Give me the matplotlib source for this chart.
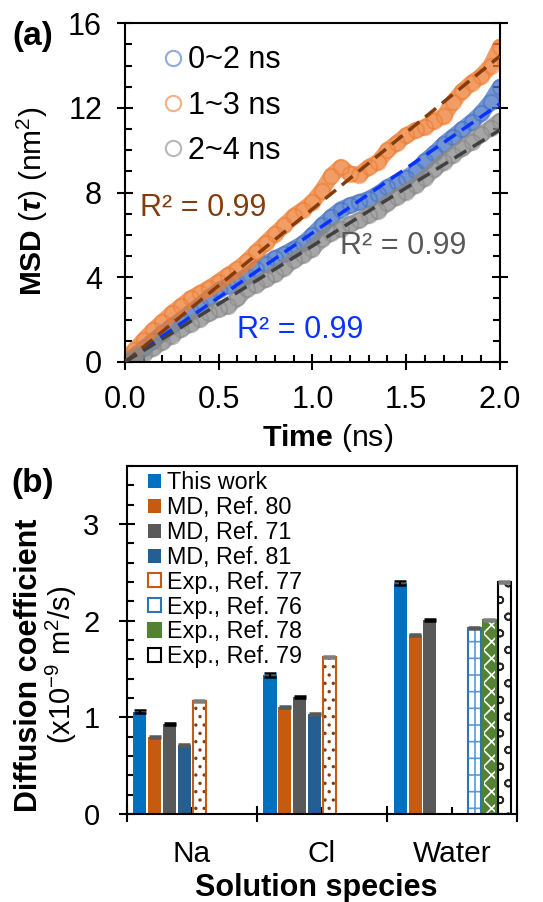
import numpy as np
import matplotlib
matplotlib.use("Agg")
import matplotlib.pyplot as plt
from matplotlib.lines import Line2D
from matplotlib.patches import Patch
from matplotlib.ticker import MultipleLocator, FormatStrFormatter

plt.rcParams['font.family'] = ['Liberation Sans', 'DejaVu Sans']
plt.rcParams['mathtext.fontset'] = 'custom'
plt.rcParams['mathtext.rm'] = 'Liberation Sans'
plt.rcParams['mathtext.it'] = 'Liberation Sans:italic'
plt.rcParams['mathtext.bf'] = 'Liberation Sans:bold'
plt.rcParams['mathtext.bfit'] = 'Liberation Sans:bold:italic'
plt.rcParams['hatch.linewidth'] = 1.2

# ---- (a) MSD curves ----
time_ns = [0.00, 0.05, 0.10, 0.15, 0.20, 0.25, 0.30, 0.35, 0.40, 0.45,
           0.50, 0.55, 0.60, 0.65, 0.70, 0.75, 0.80, 0.85, 0.90, 0.95,
           1.00, 1.05, 1.10, 1.15, 1.20, 1.25, 1.30, 1.35, 1.40, 1.45,
           1.50, 1.55, 1.60, 1.65, 1.70, 1.75, 1.80, 1.85, 1.90, 1.95, 2.00]
msd_0_2 = [0.00, 0.30, 0.65, 1.00, 1.35, 1.70, 2.00, 2.35, 2.70, 3.05,
           3.40, 3.60, 3.80, 4.05, 4.40, 4.65, 4.90, 5.10, 5.35, 5.60,
           6.00, 6.45, 6.85, 7.20, 7.40, 7.55, 7.70, 7.95, 8.25, 8.50,
           8.70, 9.00, 9.50, 9.85, 10.30, 10.65, 11.00, 11.35, 11.75, 12.30, 13.00]
msd_1_3 = [0.00, 0.55, 1.05, 1.50, 1.90, 2.30, 2.65, 3.00, 3.25, 3.50,
           3.80, 4.10, 4.40, 4.75, 5.20, 5.62, 6.05, 6.45, 6.90, 7.20,
           7.55, 8.10, 8.80, 9.20, 8.90, 8.85, 9.20, 9.45, 10.00, 10.35,
           10.70, 10.95, 11.10, 11.40, 11.60, 12.30, 12.80, 13.20, 13.50, 14.00, 14.90]
msd_2_4 = [0.00, 0.15, 0.40, 0.65, 0.95, 1.25, 1.55, 1.80, 2.05, 2.30,
           2.50, 2.65, 3.00, 3.45, 3.65, 3.90, 4.15, 4.45, 4.80, 5.05,
           5.35, 5.80, 6.10, 6.30, 6.50, 6.70, 6.95, 7.15, 7.50, 7.80,
           8.05, 8.35, 8.70, 9.10, 9.45, 9.80, 10.10, 10.40, 10.75, 11.05, 11.40]
msd_labels = ["0~2 ns", "1~3 ns", "2~4 ns"]
r2_text = "R² = 0.99"

# ---- (b) diffusion coefficients (x1e-9 m2/s) ----
species = ["Na", "Cl", "Water"]
series_names = ["This work", "MD, Ref. 80", "MD, Ref. 71", "MD, Ref. 81",
                "Exp., Ref. 77", "Exp., Ref. 76", "Exp., Ref. 78", "Exp., Ref. 79"]
this_work = [1.06, 1.44, 2.39]
this_work_err = [0.02, 0.02, 0.02]
md_ref80 = [0.80, 1.11, 1.85]
md_ref71 = [0.93, 1.21, 2.01]
md_ref81 = [0.71, 1.03, np.nan]
exp_ref77 = [1.17, 1.62, np.nan]
exp_ref76 = [np.nan, np.nan, 1.92]
exp_ref78 = [np.nan, np.nan, 2.01]
exp_ref79 = [np.nan, np.nan, 2.40]
other_err = [0.01, 0.01, 0.01]

fig = plt.figure(figsize=(5.43, 9.02), dpi=100)

# ================= panel (a) =================
ax1 = fig.add_axes([0.2302, 0.5987, 0.6906, 0.3755])
t = np.array(time_ns)
curve_styles = [
    (msd_0_2, '#4472C4', '#0A32FF'),
    (msd_1_3, '#ED7D31', '#843C0C'),
    (msd_2_4, '#888888', '#404040'),
]
for y, col, _ in curve_styles:
    ax1.plot(t, y, '-', color=col, lw=11.5, alpha=0.75, solid_capstyle='round', zorder=2)
    ax1.plot(t, y, 'o', ms=11, mfc='none', mec=col, mew=1.5, alpha=0.55, zorder=2)
for y, _, tcol in curve_styles:
    y = np.array(y)
    slope = np.sum(t * y) / np.sum(t * t)
    ax1.plot([0, 2], [0, 2 * slope], color=tcol, lw=2.5, dashes=(4, 2.2), zorder=3)

ax1.text(0.08, 7.25, r2_text, color='#843C0C', fontsize=22, ha='left', va='center')
ax1.text(1.147, 5.5, r2_text, color='#595959', fontsize=22, ha='left', va='center')
ax1.text(0.597, 1.5, r2_text, color='#0A32FF', fontsize=22, ha='left', va='center')

ax1.set_xlim(0, 2.0)
ax1.set_ylim(0, 16)
ax1.xaxis.set_major_locator(MultipleLocator(0.5))
ax1.xaxis.set_minor_locator(MultipleLocator(0.1))
ax1.xaxis.set_major_formatter(FormatStrFormatter('%.1f'))
ax1.yaxis.set_major_locator(MultipleLocator(4))
ax1.yaxis.set_minor_locator(MultipleLocator(1))
ax1.tick_params(which='major', direction='inout', length=11, width=1.5,
                right=True, top=False, labelsize=22, pad=11)
ax1.tick_params(which='minor', direction='in', length=5, width=1.5, right=True, top=False)
for s in ax1.spines.values():
    s.set_linewidth(1.5)

handles = [Line2D([], [], ls='none', marker='o', ms=11, mfc='none', mew=1.5,
                  mec=c, alpha=0.6) for _, c, _ in curve_styles]
ax1.legend(handles, msd_labels, loc='upper left', bbox_to_anchor=(0.1, 0.935),
           frameon=False, fontsize=22, handlelength=0.7, handletextpad=0.15,
           labelspacing=0.5, borderaxespad=0, borderpad=0)

ax1.set_ylabel(r"$\mathbf{MSD}$ ($\mathbfit{\tau}$) (nm$^2$)", fontsize=21.5)
ax1.yaxis.set_label_coords(-0.2, 0.475)
ax1.text(0.539, -0.224, r"$\mathbf{Time}$ (ns)", transform=ax1.transAxes,
         fontsize=21.8, ha='center', va='center')
fig.text(33 / 543, 1 - 37 / 902, "(a)", fontsize=24, fontweight='bold',
         ha='center', va='center')

# ================= panel (b) =================
ax2 = fig.add_axes([0.2333, 0.0976, 0.7193, 0.3858])
values = [this_work, md_ref80, md_ref71, md_ref81, exp_ref77, exp_ref76, exp_ref78, exp_ref79]
errors = [this_work_err] + [other_err] * 7
bar_styles = [
    dict(fc='#0070C0', hc=None, ec=None, hatch=None, err='black'),
    dict(fc='#C55A11', hc=None, ec=None, hatch=None, err='#595959'),
    dict(fc='#595959', hc=None, ec=None, hatch=None, err='black'),
    dict(fc='#255E91', hc=None, ec=None, hatch=None, err='#595959'),
    dict(fc='white', hc='#843C0C', ec='#C55A11', hatch='..', err='#7F7F7F'),
    dict(fc='white', hc='#5B9BD5', ec='#2E75B6', hatch='+', err='#595959'),
    dict(fc='#548235', hc='white', ec='#548235', hatch='xx', err='#7F7F7F'),
    dict(fc='white', hc='#262626', ec='black', hatch='o', err='#7F7F7F'),
]
slot = 0.114
centers = np.arange(len(species)) + 0.5
legend_handles = []
for i, (vals, errs, st) in enumerate(zip(values, errors, bar_styles)):
    v = np.array(vals, dtype=float)
    e = np.array(errs, dtype=float)
    m = np.isfinite(v)
    x = centers + (i - 3.5) * slot
    if st['hatch'] is None:
        ax2.bar(x[m], v[m], width=slot * 0.88, color=st['fc'], lw=0, zorder=2)
        legend_handles.append(Patch(facecolor=st['fc'], lw=0))
    else:
        ax2.bar(x[m], v[m], width=slot * 0.88, color=st['fc'], edgecolor=st['hc'],
                hatch=st['hatch'], lw=0, zorder=2)
        ax2.bar(x[m], v[m], width=slot * 0.88, fill=False, edgecolor=st['ec'],
                lw=1.5, zorder=2)
        legend_handles.append(Patch(facecolor=st['fc'], edgecolor=st['ec'], lw=1.5))
    ax2.errorbar(x[m], v[m], yerr=e[m], fmt='none', ecolor=st['err'], elinewidth=1.5,
                 capsize=4.5, capthick=1.8, zorder=3)

ax2.set_xlim(0, 3)
ax2.set_ylim(0, 3.6)
ax2.set_xticks([0, 1, 2, 3], ['', '', '', ''])
ax2.set_xticks(centers, species, minor=True)
ax2.yaxis.set_major_locator(MultipleLocator(1))
ax2.yaxis.set_minor_locator(MultipleLocator(0.2))
ax2.tick_params(axis='x', which='major', direction='inout', length=12, width=1.5)
ax2.tick_params(axis='x', which='minor', direction='in', length=5, width=1.5,
                labelsize=21.5, pad=19)
ax2.tick_params(axis='y', which='major', direction='inout', length=11, width=1.5,
                labelsize=21, pad=14)
ax2.tick_params(axis='y', which='minor', direction='in', length=5, width=1.5)
for s in ax2.spines.values():
    s.set_linewidth(1.5)

ax2.legend(legend_handles, series_names, loc='upper left', bbox_to_anchor=(0.055, 0.985),
           frameon=False, fontsize=16.8, handlelength=0.55, handleheight=0.55,
           handletextpad=0.25, labelspacing=0.08, borderaxespad=0, borderpad=0)

ax2.text(-0.25, 0.428, "Diffusion coefficient", transform=ax2.transAxes, rotation=90,
         fontsize=22, fontweight='bold', ha='center', va='center')
ax2.text(-0.168, 0.428, r"(x10$^{-9}$ m$^2$/s)", transform=ax2.transAxes, rotation=90,
         fontsize=21, ha='center', va='center')
ax2.text(0.485, -0.213, "Solution species", transform=ax2.transAxes,
         fontsize=22, fontweight='bold', ha='center', va='center')
fig.text(33 / 543, 1 - 483 / 902, "(b)", fontsize=24, fontweight='bold',
         ha='center', va='center')

fig.savefig("out.png", dpi=100)
